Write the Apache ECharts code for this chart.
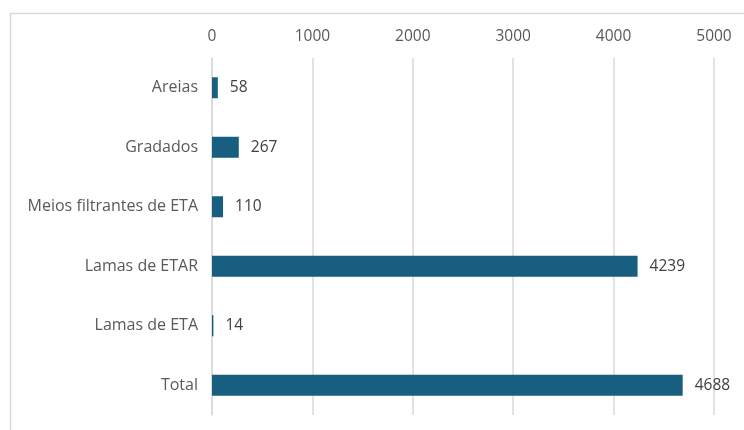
<!DOCTYPE html>
<html><head><meta charset="utf-8">
<script src="https://cdn.jsdelivr.net/npm/echarts@6/dist/echarts.min.js"></script>
<style>html,body{margin:0;padding:0;background:#fff}#c{width:744px;height:430px}</style>
</head><body><div id="c"></div>
<script>
var categories = ['Areias','Gradados','Meios filtrantes de ETA','Lamas de ETAR','Lamas de ETA','Total'];
var values = [58, 267, 110, 4239, 14, 4688];
var xTicks = [0, 1000, 2000, 3000, 4000, 5000];

var chart = echarts.init(document.getElementById('c'));
chart.setOption({
  animation: false,
  graphic: [{type:'rect', shape:{x:10.5,y:13.5,width:800,height:500}, style:{fill:'none',stroke:'#d9d9d9',lineWidth:1.5}, z:-1}],
  grid: {left:212, right:30, top:58, bottom:15, containLabel:false},
  xAxis: {
    type:'value', position:'top', min:xTicks[0], max:xTicks[xTicks.length-1], interval:1000,
    axisLine:{show:false}, axisTick:{show:false},
    axisLabel:{color:'#595959', fontSize:15.5, fontFamily:'Open Sans', margin:13, formatter:function(v){return String(v);}},
    splitLine:{lineStyle:{color:'#d9d9d9', width:1.5}}
  },
  yAxis: {
    type:'category', data:categories, inverse:true,
    axisLine:{show:true, lineStyle:{color:'#d9d9d9', width:1.5}}, axisTick:{show:false},
    axisLabel:{color:'#595959', fontSize:16, fontFamily:'Open Sans', margin:14}
  },
  series: [{
    type:'bar', data:values, barWidth:21,
    itemStyle:{color:'#175e80'},
    label:{show:true, position:'right', distance:12, color:'#404040', fontSize:15.5, fontFamily:'Open Sans'}
  }]
});
</script></body></html>
